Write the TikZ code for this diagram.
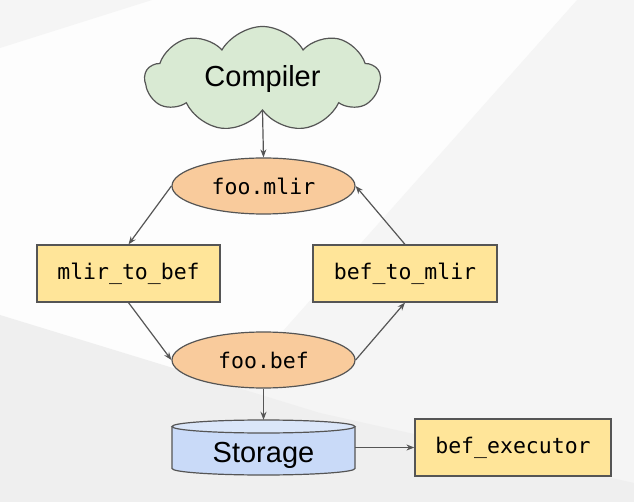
\documentclass[tikz,border=0pt]{standalone}
\usepackage{fontspec}
\setmainfont{Liberation Sans}
\setmonofont{DejaVu Sans Mono}
\usetikzlibrary{shapes.symbols,shapes.geometric,arrows.meta}
\definecolor{edgec}{HTML}{555555}
\definecolor{greenf}{HTML}{D9EAD3}
\definecolor{orangef}{HTML}{F9CB9C}
\definecolor{yellowf}{HTML}{FFE599}
\definecolor{bluef}{HTML}{C9DAF8}
\definecolor{bluetop}{HTML}{DAE6F9}
\definecolor{bgwhite}{HTML}{FDFDFD}
\definecolor{bglight}{HTML}{F5F5F5}
\definecolor{bgdark}{HTML}{EFEFEF}
\begin{document}
\begin{tikzpicture}[x=1pt,y=-1pt,
  conn/.style={draw=edgec, line width=1.2pt, -{Stealth[length=8pt,width=6pt]}},
  monobox/.style={rectangle, draw=edgec, fill=yellowf, line width=1.2pt, minimum height=57pt, inner sep=0pt, font=\ttfamily\fontsize{21.5}{24}\selectfont},
  filenode/.style={ellipse, draw=edgec, fill=orangef, line width=1.2pt, minimum width=183pt, minimum height=56pt, inner sep=0pt, font=\ttfamily\fontsize{21.5}{24}\selectfont},
]
% background
\useasboundingbox (0,0) rectangle (634,502);
\fill[bgwhite] (0,0) rectangle (634,502);
\fill[bglight] (577,0) -- (634,0) -- (634,502) -- (131,502) -- cycle;
\fill[bglight] (0,0) -- (152,0) -- (0,48) -- cycle;
\fill[bgdark] (0,315) -- (320,413) -- (634,483) -- (634,502) -- (0,502) -- cycle;

% cloud
\node[cloud, cloud puffs=9, cloud puff arc=120, aspect=2.2, draw=edgec, fill=greenf, line width=1.2pt,
      minimum width=235pt, minimum height=105pt, inner sep=0pt, font=\fontsize{29}{32}\selectfont] (compiler) at (262.5,79) {Compiler};

% files
\node[filenode] (fmlir) at (263.5,186) {foo.mlir};
\node[filenode] (fbef) at (263.5,360) {foo.bef};

% tools
\node[monobox, minimum width=183pt] (m2b) at (128.5,273.5) {mlir\_to\_bef};
\node[monobox, minimum width=184pt] (b2m) at (405,273.5) {bef\_to\_mlir};
\node[monobox, minimum width=196pt] (bexec) at (513,447.5) {bef\_executor};

% storage cylinder
\fill[bluef] (172,426.5) -- (172,468.5) arc[start angle=180, end angle=0, x radius=91.5, y radius=6.5] -- (355,426.5) -- cycle;
\draw[edgec, line width=1.2pt] (172,426.5) -- (172,468.5) arc[start angle=180, end angle=0, x radius=91.5, y radius=6.5] -- (355,426.5);
\filldraw[fill=bluetop, draw=edgec, line width=1.2pt] (263.5,426.5) ellipse[x radius=91.5, y radius=6.5];
\node[rectangle, minimum width=183pt, minimum height=55pt, inner sep=0pt, text height=30pt, text depth=0pt,
      font=\fontsize{29}{32}\selectfont] (storage) at (263.5,447.5) {Storage};

% connectors
\draw[conn] (compiler.south) -- (fmlir.north);
\draw[conn] (fmlir.west) -- (m2b.north);
\draw[conn] (m2b.south) -- (fbef.west);
\draw[conn] (fbef.east) -- (b2m.south);
\draw[conn] (b2m.north) -- (fmlir.east);
\draw[conn] (fbef.south) -- (storage.north);
\draw[conn] (storage.east) -- (bexec.west);
\end{tikzpicture}
\end{document}
